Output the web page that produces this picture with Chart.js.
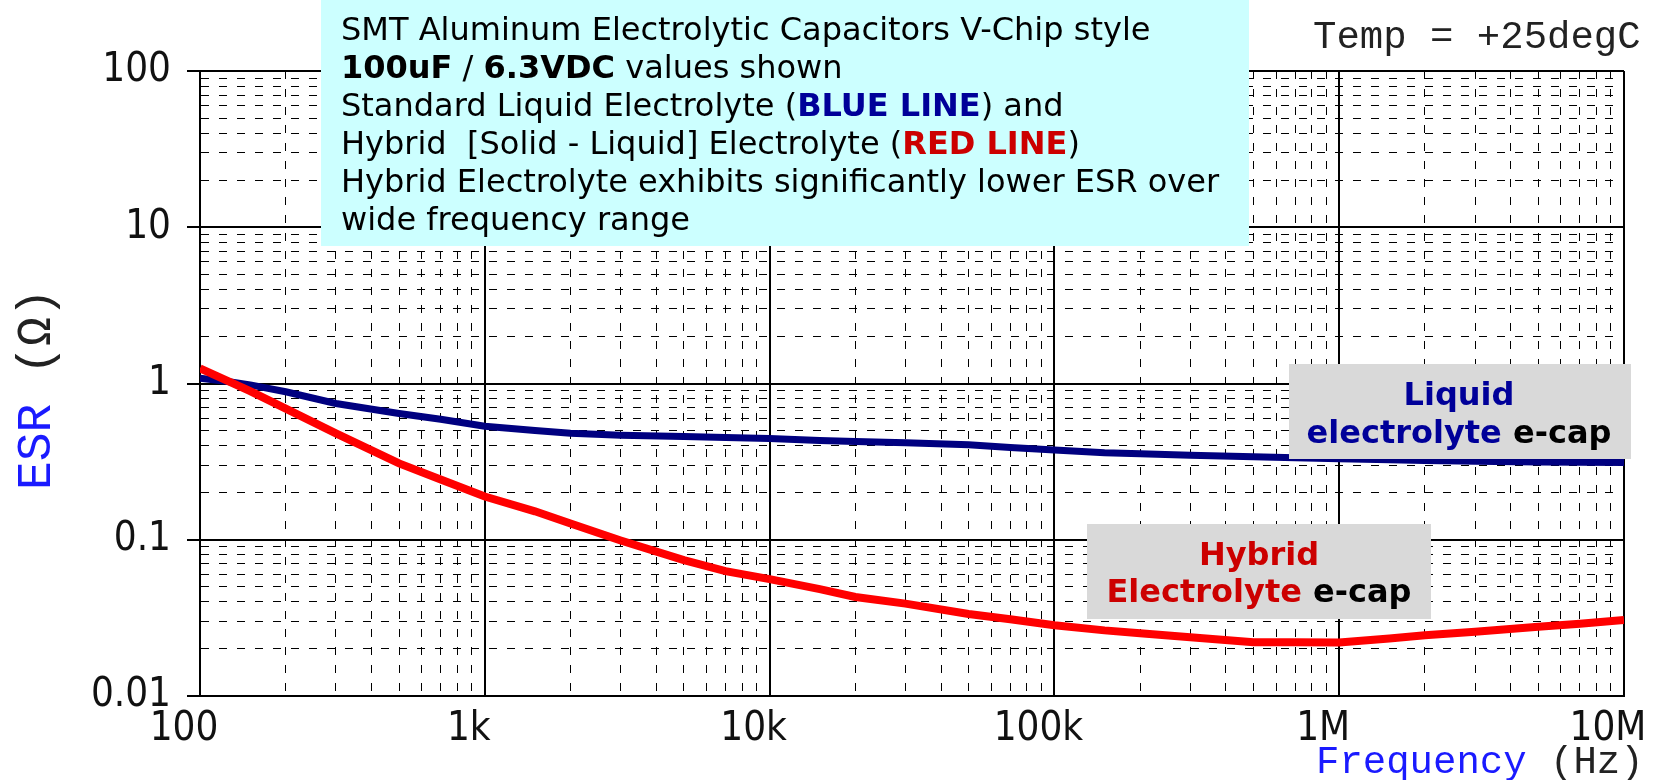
<!DOCTYPE html>
<html>
<head>
<meta charset="utf-8">
<script src="https://cdn.jsdelivr.net/npm/chart.js@4.4.0/dist/chart.umd.min.js"></script>
<style>
  html, body { margin: 0; padding: 0; background: #ffffff; }
  #wrap { width: 1663px; height: 780px; }
</style>
</head>
<body>
<div id="wrap"><canvas id="esrChart" width="1663" height="780"></canvas></div>
<script>
// frequency points (Hz)
const freqHz = [100, 125, 150, 200, 300, 500, 700, 1000, 1500, 2000, 3000, 5000, 7000,
    10000, 15000, 20000, 30000, 50000, 70000, 100000, 150000, 200000, 300000, 500000, 700000,
    1000000, 1500000, 2000000, 3000000, 5000000, 7000000, 10000000];
// ESR (ohm) - standard liquid electrolyte (blue line)
const esrLiquid = [1.08, 1.03, 0.98, 0.885, 0.745, 0.643, 0.59, 0.533, 0.50, 0.48, 0.467, 0.458, 0.452,
    0.445, 0.432, 0.425, 0.418, 0.405, 0.39, 0.375, 0.36, 0.355, 0.348, 0.34, 0.335,
    0.33, 0.325, 0.322, 0.318, 0.315, 0.313, 0.312];
// ESR (ohm) - hybrid electrolyte (red line)
const esrHybrid = [1.25, 1.04, 0.894, 0.69, 0.48, 0.308, 0.243, 0.189, 0.152, 0.127, 0.099, 0.074, 0.063,
    0.056, 0.0483, 0.043, 0.039, 0.0335, 0.031, 0.0284, 0.0263, 0.0252, 0.0238, 0.0221, 0.0221,
    0.022, 0.0233, 0.0245, 0.0258, 0.0277, 0.029, 0.0307];

// axis ticks
const xDecades = [100, 1000, 10000, 100000, 1000000, 10000000];
const xTickLabels = ['100', '1k', '10k', '100k', '1M', '10M'];
const yDecades = [0.01, 0.1, 1, 10, 100];
const yTickLabels = ['0.01', '0.1', '1', '10', '100'];
const minorSteps = [1, 2, 3, 4, 5, 6, 7, 8, 9];

const TICK_FONT = '"Liberation Sans Narrow", "DejaVu Sans Condensed", "Arial Narrow", sans-serif';
const NOTE = '32px "DejaVu Sans", Verdana, sans-serif';
const NOTE_B = 'bold 32px "DejaVu Sans", Verdana, sans-serif';
const MONO = '"Liberation Mono", "Courier New", monospace';

function logTicks(decades){
    var ticks = [];
    for(var i = 0; i < decades.length - 1; i++) {
        minorSteps.forEach(function(m){
            ticks.push({value: m * decades[i], major: m === 1});
        });
    }
    ticks.push({value: decades[decades.length - 1], major: true});
    return ticks;
}

function decadeLabel(value, decades, labels){
    for(var i = 0; i < decades.length; i++) {
        if(Math.abs(value / decades[i] - 1) < 1e-9) return labels[i];
    }
    return '';
}

const isMajor = (c) => c.tick && c.tick.major;

function drawRuns(ctx, x, y, runs, align){
    var total = 0;
    runs.forEach(function(r){ ctx.font = r[1]; total += ctx.measureText(r[0]).width; });
    var cx = align === 'center' ? x - total / 2 : x;
    ctx.textAlign = 'left';
    ctx.textBaseline = 'alphabetic';
    runs.forEach(function(r){
        ctx.font = r[1];
        ctx.fillStyle = r[2] || '#000';
        ctx.fillText(r[0], cx, y);
        cx += ctx.measureText(r[0]).width;
    });
}

let captions = {
    id: 'captions',
    afterDraw: (chart) => {
        const ctx = chart.ctx;
        ctx.save();

        // note box
        ctx.fillStyle = '#ccffff';
        ctx.fillRect(321, 0, 928, 246);
        drawRuns(ctx, 341, 40, [['SMT Aluminum Electrolytic Capacitors V-Chip style', NOTE]]);
        drawRuns(ctx, 341, 78, [['100uF', NOTE_B], [' / ', NOTE], ['6.3VDC', NOTE_B], [' values shown', NOTE]]);
        drawRuns(ctx, 341, 116, [['Standard Liquid Electrolyte (', NOTE], ['BLUE LINE', NOTE_B, '#000099'], [') and', NOTE]]);
        drawRuns(ctx, 341, 154, [['Hybrid  [Solid - Liquid] Electrolyte (', NOTE], ['RED LINE', NOTE_B, '#cc0000'], [')', NOTE]]);
        drawRuns(ctx, 341, 192, [['Hybrid Electrolyte exhibits significantly lower ESR over', NOTE]]);
        drawRuns(ctx, 341, 230, [['wide frequency range', NOTE]]);

        // curve labels
        ctx.fillStyle = '#d9d9d9';
        ctx.fillRect(1289, 364, 342, 95);
        drawRuns(ctx, 1459, 405, [['Liquid', NOTE_B, '#000099']], 'center');
        drawRuns(ctx, 1459, 443, [['electrolyte', NOTE_B, '#000099'], [' e-cap', NOTE_B, '#000']], 'center');

        ctx.fillStyle = '#d9d9d9';
        ctx.fillRect(1087, 524, 344, 95);
        drawRuns(ctx, 1259, 565, [['Hybrid', NOTE_B, '#cc0000']], 'center');
        drawRuns(ctx, 1259, 602, [['Electrolyte', NOTE_B, '#cc0000'], [' e-cap', NOTE_B, '#000']], 'center');

        // temperature and axis titles
        drawRuns(ctx, 1313, 48, [['Temp = +25degC', '39px ' + MONO, '#222']]);
        drawRuns(ctx, 1316, 773, [['Frequency', '39px ' + MONO, '#1a1aff'], [' (Hz)', '39px ' + MONO, '#222']]);

        ctx.translate(50, 490);
        ctx.rotate(-Math.PI / 2);
        drawRuns(ctx, 0, 0, [['ESR', '48px ' + MONO, '#1a1aff'], [' (\u03A9)', '48px ' + MONO, '#222']]);

        ctx.restore();
    }
};

const chartCanvas = document.getElementById('esrChart');

const esrChart = new Chart(chartCanvas, {
    type: 'line',
    data: {
        datasets: [{
            label: 'Hybrid Electrolyte e-cap',
            data: freqHz.map((f, i) => ({x: f, y: esrHybrid[i]})),
            borderColor: '#ff0000',
            borderWidth: 8,
            pointRadius: 0,
            tension: 0,
            fill: false
        }, {
            label: 'Liquid electrolyte e-cap',
            data: freqHz.map((f, i) => ({x: f, y: esrLiquid[i]})),
            borderColor: '#000080',
            borderWidth: 7,
            pointRadius: 0,
            tension: 0,
            fill: false
        }]
    },
    options: {
        responsive: false,
        animation: false,
        devicePixelRatio: 1,
        layout: { padding: { top: 71, right: 39, left: 0, bottom: 0 } },
        plugins: { legend: { display: false }, tooltip: { enabled: false } },
        scales: {
            x: {
                type: 'logarithmic',
                min: 100,
                max: 10000000,
                afterBuildTicks: (axis) => { axis.ticks = logTicks(xDecades); },
                afterFit: (axis) => {
                    axis.height = 84;
                    axis.paddingLeft = 0;
                    axis.paddingRight = 0;
                },
                ticks: {
                    autoSkip: false,
                    maxRotation: 0,
                    padding: 10,
                    labelOffset: -16,
                    color: '#111',
                    font: { family: TICK_FONT, size: 40 },
                    callback: (v) => decadeLabel(v, xDecades, xTickLabels)
                },
                grid: {
                    color: '#000',
                    lineWidth: (c) => isMajor(c) ? 2 : 1,
                    drawTicks: false
                },
                border: { display: true, color: '#000', width: 2, dash: (c) => c.tick && !c.tick.major ? [8, 10] : [] }
            },
            y: {
                type: 'logarithmic',
                min: 0.01,
                max: 100,
                afterBuildTicks: (axis) => { axis.ticks = logTicks(yDecades); },
                afterFit: (axis) => {
                    axis.width = 200;
                    axis.paddingTop = 0;
                    axis.paddingBottom = 0;
                },
                ticks: {
                    autoSkip: false,
                    padding: 16,
                    color: '#111',
                    font: { family: TICK_FONT, size: 40 },
                    callback: (v) => decadeLabel(v, yDecades, yTickLabels)
                },
                grid: {
                    color: '#000',
                    lineWidth: (c) => isMajor(c) ? 2 : 1,
                    drawTicks: true,
                    tickLength: 13,
                    tickWidth: 2,
                    tickColor: (c) => isMajor(c) ? '#000' : 'rgba(0,0,0,0)'
                },
                border: { display: true, color: '#000', width: 2, dash: (c) => c.tick && !c.tick.major ? [8, 10] : [] }
            }
        }
    },
    plugins: [captions]
});
</script>
</body>
</html>
